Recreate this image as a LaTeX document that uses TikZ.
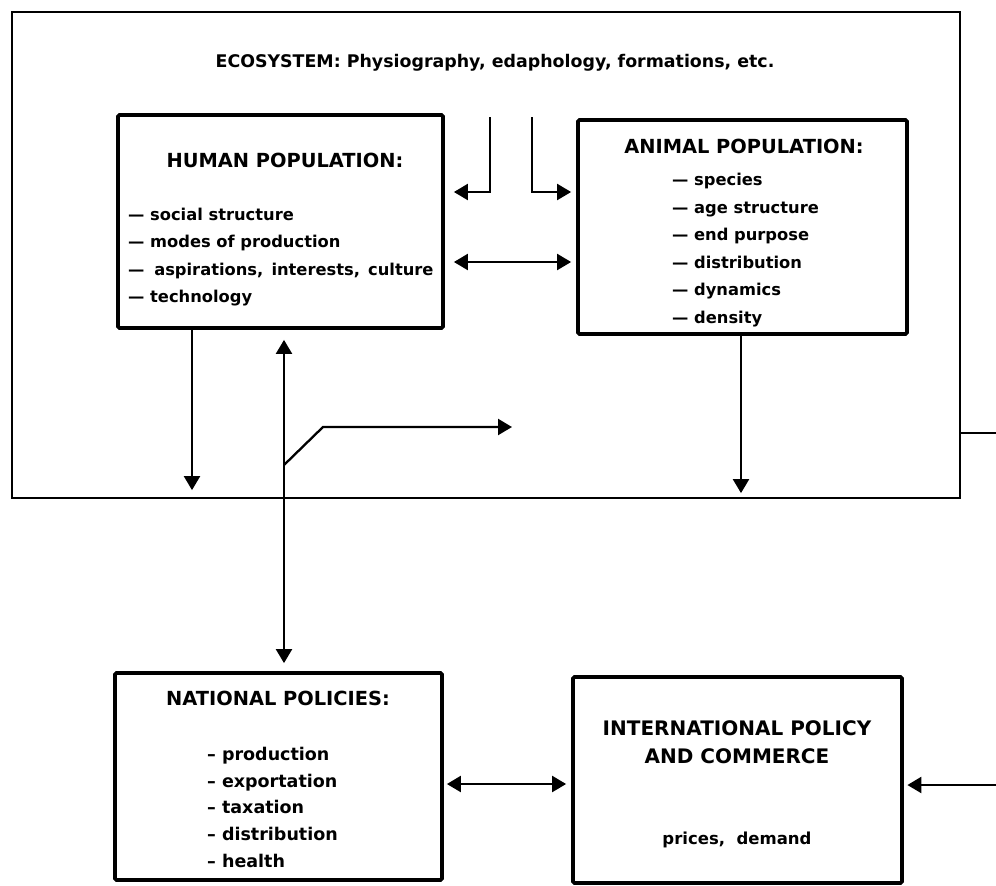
\documentclass[tikz,border=0pt]{standalone}
\usepackage{fontspec}
\setmainfont{DejaVu Sans}
\usetikzlibrary{arrows.meta,calc}
\begin{document}
\begin{tikzpicture}[x=1pt,y=-1pt,
  box/.style={draw, line width=3.8pt, rounded corners=1.5pt, inner sep=0pt},
  tipA/.tip={Triangle[length=14pt,width=16pt]},
  arr/.style={line width=2.3pt, -tipA},
  darr/.style={line width=2.3pt, tipA-tipA},
  ttl/.style={font=\bfseries\fontsize{19.4}{22}\selectfont, inner sep=0pt, anchor=base},
  itm/.style={font=\bfseries\fontsize{16.3}{19}\selectfont, inner sep=0pt, anchor=base west},
  nitm/.style={font=\bfseries\fontsize{17.5}{20}\selectfont, inner sep=0pt, anchor=base west},
]
\useasboundingbox (0,0) rectangle (996,886);
% ecosystem frame
\node[draw, line width=2.2pt, minimum width=948pt, minimum height=486pt, inner sep=0pt] (eco) at (486,255) {};
\node[font=\bfseries\fontsize{17.4}{20}\selectfont, inner sep=0pt, anchor=base] (ecot) at (495,67)
  {ECOSYSTEM: Physiography, edaphology, formations, etc.};
% human population
\node[box, minimum width=325pt, minimum height=213pt] (human) at (280.5,221.5) {};
\node[ttl] (htitle) at (285,167) {HUMAN POPULATION:};
\node[itm] (h1) at (128,220) {— social structure};
\node[itm] (h2) at (128,247.5) {— modes of production};
\node[itm] (h3) at (128,275) {—\hspace{0.6em}aspirations,\hspace{0.5em}interests,\hspace{0.5em}culture};
\node[itm] (h4) at (128,302) {— technology};
% animal population
\node[box, minimum width=329pt, minimum height=214pt] (animal) at (742.5,227) {};
\node[ttl] (atitle) at (744,153) {ANIMAL POPULATION:};
\node[itm] (a1) at (672,185) {— species};
\node[itm] (a2) at (672,213) {— age structure};
\node[itm] (a3) at (672,240.5) {— end purpose};
\node[itm] (a4) at (672,268) {— distribution};
\node[itm] (a5) at (672,295.5) {— dynamics};
\node[itm] (a6) at (672,323) {— density};
% national policies
\node[box, minimum width=327pt, minimum height=207pt] (nat) at (278.5,776.5) {};
\node[ttl] (ntitle) at (278,705) {NATIONAL POLICIES:};
\node[nitm] (n1) at (207,760) {– production};
\node[nitm] (n2) at (207,787) {– exportation};
\node[nitm] (n3) at (207,813) {– taxation};
\node[nitm] (n4) at (207,840) {– distribution};
\node[nitm] (n5) at (207,867) {– health};
% international policy
\node[box, minimum width=329pt, minimum height=206pt] (intl) at (737.5,780) {};
\node[ttl, font=\bfseries\fontsize{20}{22}\selectfont] (it1) at (737,735) {INTERNATIONAL POLICY};
\node[ttl, font=\bfseries\fontsize{20}{22}\selectfont] (it2) at (737,763) {AND COMMERCE};
\node[font=\bfseries\fontsize{16.5}{19}\selectfont, inner sep=0pt, anchor=base] (it3) at (737,844) {prices, \ demand};
% connectors
\coordinate (e1) at (490,117);
\coordinate (e2) at (532,117);
\draw[arr, shorten >=9pt] (e1) |- ([yshift=29.5pt]human.east);
\draw[arr, shorten >=5pt] (e2) |- ([yshift=35pt]animal.west);
\draw[darr, shorten <=9pt, shorten >=5pt] ([yshift=-40.5pt]human.east) -- ([yshift=-35pt]animal.west);
\coordinate (hx1) at (192,0);
\draw[arr, shorten >=9pt] (human.south -| hx1) -- (eco.south -| hx1);
\coordinate (hx2) at (284,0);
\draw[darr, shorten <=10pt, shorten >=8pt] (human.south -| hx2) -- (nat.north -| hx2);
\coordinate (b0) at (284,465);
\coordinate (b1) at (323,427);
\coordinate (b2) at (512,427);
\draw[arr] (b0) -- (b1) -- (b2);
\coordinate (ax) at (741,0);
\draw[arr, shorten >=6pt] (animal.south -| ax) -- (eco.south -| ax);
\coordinate (r1) at (996,433);
\draw[line width=2.3pt] (eco.east |- r1) -- (r1);
\coordinate (ny) at (0,784);
\draw[darr, shorten <=3pt, shorten >=5pt] (nat.east |- ny) -- (intl.west |- ny);
\coordinate (r2) at (996,785);
\draw[arr, shorten >=3.5pt] (r2) -- (intl.east |- r2);
\end{tikzpicture}
\end{document}
